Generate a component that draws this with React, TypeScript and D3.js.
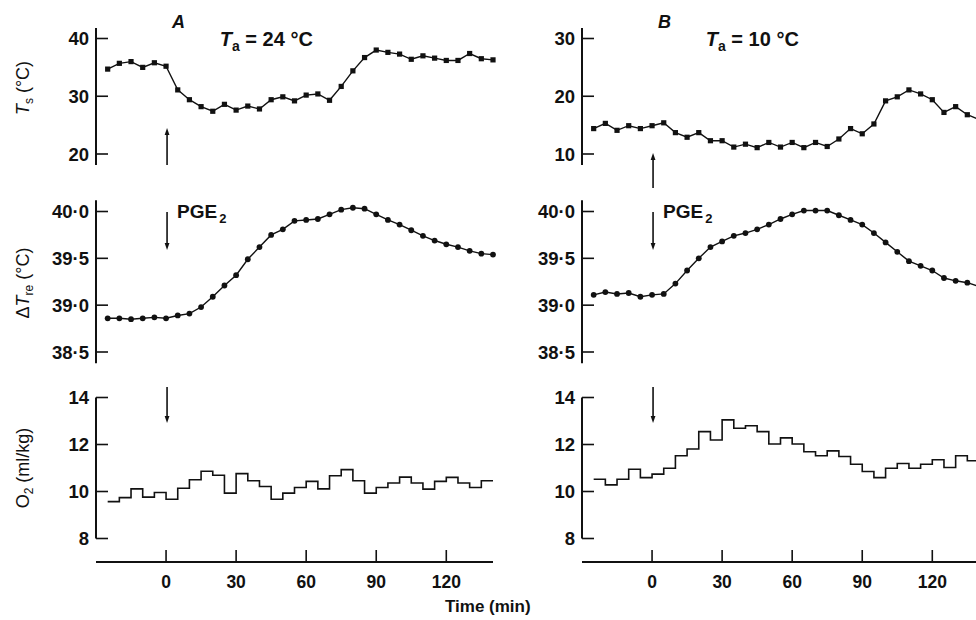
import React from "react";
import * as d3 from "d3";

// DATA
const time = [-25, -20, -15, -10, -5, 0, 5, 10, 15, 20, 25, 30, 35, 40, 45, 50, 55, 60, 65, 70, 75, 80, 85, 90, 95, 100, 105, 110, 115, 120, 125, 130, 135, 140];

const tsA = [34.7, 35.7, 36.0, 35.0, 35.8, 35.2, 31.1, 29.4, 28.2, 27.4, 28.6, 27.6, 28.3, 27.8, 29.4, 29.9, 29.2, 30.2, 30.4, 29.3, 31.7, 34.4, 36.7, 38.0, 37.6, 37.3, 36.4, 37.0, 36.6, 36.2, 36.2, 37.4, 36.5, 36.3];
const treA = [38.86, 38.86, 38.85, 38.86, 38.87, 38.86, 38.89, 38.91, 38.98, 39.09, 39.21, 39.32, 39.49, 39.62, 39.75, 39.81, 39.9, 39.91, 39.92, 39.97, 40.02, 40.04, 40.03, 39.97, 39.91, 39.86, 39.8, 39.74, 39.69, 39.65, 39.62, 39.58, 39.55, 39.54];
// O2 per 5-min interval, starting at time[i]
const o2A = [9.57, 9.74, 10.11, 9.76, 9.96, 9.67, 10.14, 10.5, 10.86, 10.69, 9.93, 10.76, 10.46, 10.21, 9.67, 9.93, 10.17, 10.43, 10.11, 10.67, 10.93, 10.46, 9.93, 10.17, 10.36, 10.61, 10.36, 10.1, 10.43, 10.6, 10.36, 10.17, 10.46];

const tsB = [14.4, 15.3, 14.1, 14.9, 14.4, 14.9, 15.4, 13.7, 12.9, 13.7, 12.3, 12.3, 11.2, 11.7, 11.1, 12.0, 11.2, 12.0, 11.1, 12.0, 11.3, 12.6, 14.4, 13.5, 15.2, 19.2, 19.9, 21.1, 20.4, 19.4, 17.2, 18.2, 16.8, 16.0];
const treB = [39.11, 39.14, 39.12, 39.13, 39.09, 39.11, 39.12, 39.23, 39.37, 39.5, 39.62, 39.68, 39.74, 39.77, 39.81, 39.86, 39.92, 39.97, 40.01, 40.01, 40.01, 39.96, 39.91, 39.86, 39.77, 39.67, 39.57, 39.47, 39.42, 39.37, 39.29, 39.26, 39.24, 39.2];
const o2B = [10.52, 10.28, 10.52, 10.95, 10.59, 10.74, 10.99, 11.52, 11.81, 12.55, 12.19, 13.05, 12.69, 12.8, 12.55, 12.02, 12.28, 12.02, 11.69, 11.52, 11.73, 11.49, 11.16, 10.85, 10.59, 10.99, 11.19, 10.99, 11.16, 11.35, 11.02, 11.52, 11.31];

const timeTicks = [0, 30, 60, 90, 120];
const tsTicksA = [20, 30, 40];
const tsTicksB = [10, 20, 30];
const treTicks = [38.5, 39.0, 39.5, 40.0];
const o2Ticks = [8, 10, 12, 14];

const FONT = "'Liberation Sans', Arial, Helvetica, sans-serif";
const INK = "#111";

// LAYOUT
const TS_RANGE: [number, number] = [154, 38.5];
const TRE_RANGE: [number, number] = [352, 211.5];
const O2_RANGE: [number, number] = [538.5, 397.5];
const X_AXIS_Y = 562;
const PANEL_W = 397;

const dotFmt = (d: number) => d.toFixed(1).replace(".", "\u00b7");

function Arrow({ x, from, to }: { x: number; from: number; to: number }) {
  const dir = to > from ? 1 : -1;
  const base = to - dir * 7;
  return (
    <g>
      <line x1={x} x2={x} y1={from} y2={base} stroke={INK} strokeWidth={1.6} />
      <path d={`M${x - 2.4},${base} L${x + 2.4},${base} L${x},${to} Z`} fill={INK} />
    </g>
  );
}

function YAxis({ x, scale, ticks, fmt, ext }: { x: number; scale: d3.ScaleLinear<number, number>; ticks: number[]; fmt: (d: number) => string; ext: [number, number] }) {
  return (
    <g>
      <line x1={x} x2={x} y1={scale(ext[0])} y2={scale(ext[1])} stroke={INK} strokeWidth={2} />
      {ticks.map((t) => (
        <g key={t}>
          <line x1={x} x2={x + 12} y1={scale(t)} y2={scale(t)} stroke={INK} strokeWidth={1.6} />
          <text x={x - 7} y={scale(t)} dy="0.36em" textAnchor="end" fontSize={18.5} fontWeight="bold" fontFamily={FONT} fill={INK}>
            {fmt(t)}
          </text>
        </g>
      ))}
    </g>
  );
}

function Panel({ x0, ts, tre, o2, tsTicks, tsDomain, letter, ta }: { x0: number; ts: number[]; tre: number[]; o2: number[]; tsTicks: number[]; tsDomain: [number, number]; letter: string; ta: string }) {
  const x = d3.scaleLinear().domain([-30, 140]).range([x0, x0 + PANEL_W]);
  const yTs = d3.scaleLinear().domain(tsDomain).range(TS_RANGE);
  const yTre = d3.scaleLinear().domain([38.5, 40]).range(TRE_RANGE);
  const yO2 = d3.scaleLinear().domain([8, 14]).range(O2_RANGE);

  const tsPts = time.map((t, i) => [t, ts[i]] as [number, number]);
  const trePts = time.map((t, i) => [t, tre[i]] as [number, number]);
  const o2Pts = o2.map((v, i) => [time[i], v] as [number, number]);
  o2Pts.push([time[o2.length], o2[o2.length - 1]]);

  const lineTs = d3.line<[number, number]>().x((d) => x(d[0])).y((d) => yTs(d[1]));
  const lineTre = d3.line<[number, number]>().x((d) => x(d[0])).y((d) => yTre(d[1]));
  const lineO2 = d3.line<[number, number]>().x((d) => x(d[0])).y((d) => yO2(d[1])).curve(d3.curveStepAfter);

  const x0Tick = x(0) + 1;

  return (
    <g>
      {/* axes */}
      <YAxis x={x0} scale={yTs} ticks={tsTicks} fmt={(d) => String(d)} ext={[tsDomain[0] - 1.9, tsDomain[1] + 1.8]} />
      <YAxis x={x0} scale={yTre} ticks={treTicks} fmt={dotFmt} ext={[38.38, 40.12]} />
      <YAxis x={x0} scale={yO2} ticks={o2Ticks} fmt={(d) => String(d)} ext={[8, 14]} />

      <line x1={x0} x2={x0 + PANEL_W} y1={X_AXIS_Y} y2={X_AXIS_Y} stroke={INK} strokeWidth={2} />
      {timeTicks.map((t) => (
        <g key={t}>
          <line x1={x(t)} x2={x(t)} y1={X_AXIS_Y} y2={X_AXIS_Y - 12} stroke={INK} strokeWidth={1.6} />
          <text x={x(t)} y={X_AXIS_Y + 26} textAnchor="middle" fontSize={17.5} fontWeight="bold" fontFamily={FONT} fill={INK}>
            {t}
          </text>
        </g>
      ))}

      {/* Ts */}
      <path d={lineTs(tsPts) ?? ""} fill="none" stroke={INK} strokeWidth={1.4} />
      {tsPts.map((d) => (
        <rect key={d[0]} x={x(d[0]) - 2.6} y={yTs(d[1]) - 2.6} width={5.2} height={5.2} fill={INK} />
      ))}

      {/* Tre */}
      <path d={lineTre(trePts) ?? ""} fill="none" stroke={INK} strokeWidth={1.4} />
      {trePts.map((d) => (
        <circle key={d[0]} cx={x(d[0])} cy={yTre(d[1])} r={2.9} fill={INK} />
      ))}

      {/* O2 */}
      <path d={lineO2(o2Pts) ?? ""} fill="none" stroke={INK} strokeWidth={1.6} />

      {/* annotations */}
      <text x={x(2.5)} y={28} fontSize={18} fontWeight="bold" fontStyle="italic" fontFamily={FONT} fill={INK}>
        {letter}
      </text>
      <text x={x(23)} y={46} fontSize={20} fontWeight="bold" fontFamily={FONT} fill={INK}>
        <tspan fontStyle="italic">T</tspan>
        <tspan fontSize={14} dy={5}>a</tspan>
        <tspan dy={-5}>{` = ${ta} \u00b0C`}</tspan>
      </text>

      <Arrow x={x0Tick} from={letter === "A" ? 165 : 188} to={letter === "A" ? 128 : 153} />
      <Arrow x={x0Tick} from={212} to={250} />
      <text x={x0Tick + 10} y={218} fontSize={19} fontWeight="bold" fontFamily={FONT} fill={INK}>
        PGE<tspan fontSize={13} dx={2} dy={5}>2</tspan>
      </text>
      <Arrow x={x0Tick} from={387} to={423} />
    </g>
  );
}

export default function App() {
  return (
    <svg width={976} height={620} style={{ position: "absolute", left: 0, top: 0, background: "#fff" }}>
      <rect width={976} height={620} fill="#fff" />
      {/* y labels */}
      <text transform="translate(29,88) rotate(-90)" textAnchor="middle" fontSize={18} fontFamily={FONT} fill={INK}>
        <tspan fontStyle="italic">T</tspan>
        <tspan fontSize={12} dy={4}>s</tspan>
        <tspan dy={-4}> (°C)</tspan>
      </text>
      <text transform="translate(29,283) rotate(-90)" textAnchor="middle" fontSize={18} fontFamily={FONT} fill={INK}>
        Δ<tspan fontStyle="italic">T</tspan>
        <tspan fontSize={12} dy={4}>re</tspan>
        <tspan dy={-4}> (°C)</tspan>
      </text>
      <text transform="translate(29,468) rotate(-90)" textAnchor="middle" fontSize={18} fontFamily={FONT} fill={INK}>
        O<tspan fontSize={12} dy={4}>2</tspan>
        <tspan dy={-4}> (ml/kg)</tspan>
      </text>

      <Panel x0={96} ts={tsA} tre={treA} o2={o2A} tsTicks={tsTicksA} tsDomain={[20, 40]} letter="A" ta="24" />
      <Panel x0={582} ts={tsB} tre={treB} o2={o2B} tsTicks={tsTicksB} tsDomain={[10, 30]} letter="B" ta="10" />

      <text x={445} y={612} fontSize={17} fontWeight="bold" fontFamily={FONT} fill={INK}>
        Time (min)
      </text>
    </svg>
  );
}
